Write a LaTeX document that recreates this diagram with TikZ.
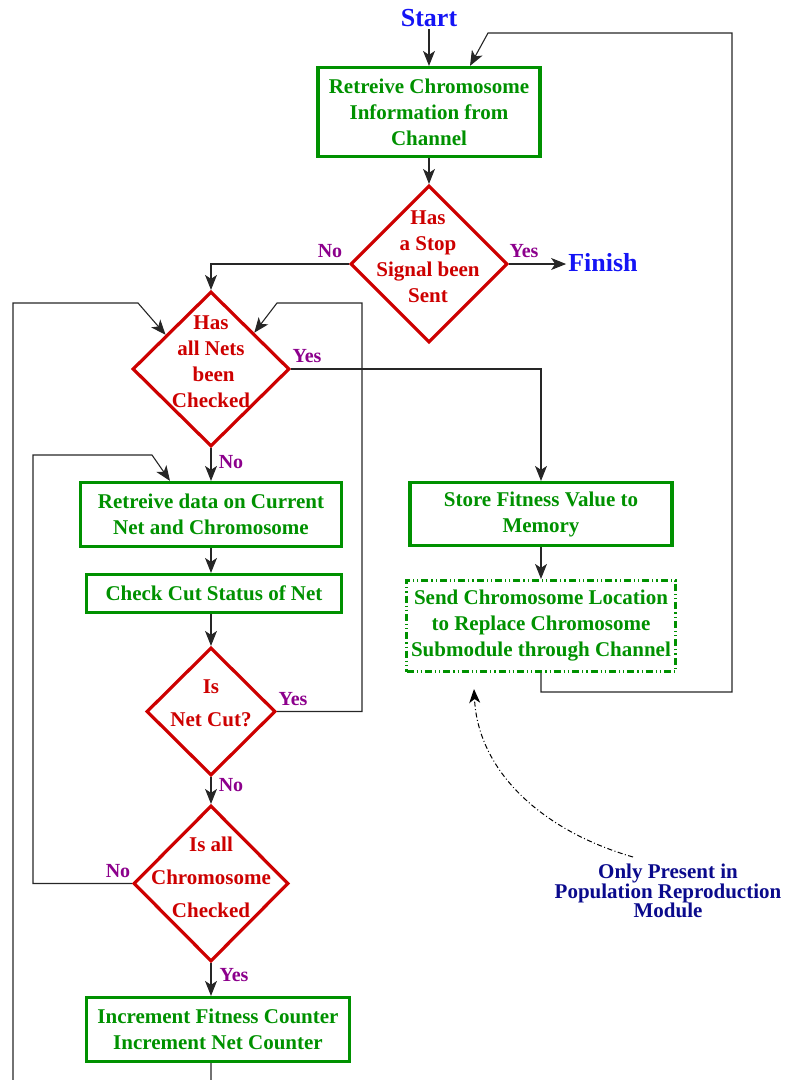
\documentclass[tikz,border=0pt]{standalone}
\usepackage{fontspec}
\setmainfont{Liberation Serif}
\usetikzlibrary{shapes.geometric,arrows.meta}

\definecolor{boxgreen}{RGB}{0,145,0}
\definecolor{decred}{RGB}{205,0,0}
\definecolor{anspurple}{RGB}{140,0,140}
\definecolor{termblue}{RGB}{20,20,245}
\definecolor{notenavy}{RGB}{10,10,140}

\tikzset{
  conn/.style={line width=1.1pt, draw=black!85, -{Stealth[length=15pt,width=12pt,inset=4pt]}},
  procbox/.style={rectangle, draw=boxgreen, line width=3.2pt, inner sep=0pt,
    text=boxgreen, font=\fontsize{21}{26}\selectfont\bfseries, align=center},
  optbox/.style={procbox, dash pattern=on 7pt off 3pt on 1.2pt off 3pt on 1.2pt off 3pt},
  decision/.style={diamond, draw=decred, line width=3.2pt, inner sep=0pt},
  dtext/.style={text=decred, font=\fontsize{21}{26}\selectfont\bfseries, align=center, inner sep=0pt},
  dtextwide/.style={dtext, font=\fontsize{21}{33}\selectfont\bfseries},
  ans/.style={text=anspurple, font=\fontsize{20}{24}\selectfont\bfseries, inner sep=0pt},
  term/.style={text=termblue, font=\fontsize{26}{30}\selectfont\bfseries, inner sep=2pt},
  notetext/.style={text=notenavy, font=\fontsize{21}{19.5}\selectfont\bfseries, align=center, inner sep=0pt},
  notearrow/.style={line width=1pt, draw=black,
    dash pattern=on 5pt off 2.5pt on 1pt off 2.5pt,
    -{Stealth[length=14pt,width=11pt,inset=4pt]}}
}

\begin{document}
\begin{tikzpicture}[x=1pt, y=-1pt]
  \useasboundingbox (0,0) rectangle (787,1080);
  \clip (0,0) rectangle (787,1080);

  % terminals
  \node[term] (start) at (429,18) {Start};
  \node[term] (finish) at (603,263) {Finish};

  % process boxes
  \node[procbox, minimum width=222pt, minimum height=89pt] (b1) at (429,112)
    {Retreive Chromosome\\Information from\\Channel};
  \node[procbox, minimum width=261pt, minimum height=64pt] (b3) at (211,514.5)
    {Retreive data on Current\\Net and Chromosome};
  \node[procbox, minimum width=255pt, minimum height=38pt] (b4) at (214,593.5)
    {Check Cut Status of Net};
  \node[procbox, minimum width=263pt, minimum height=64pt] (b5) at (218,1029.5)
    {Increment Fitness Counter\\Increment Net Counter};
  \node[procbox, minimum width=262pt, minimum height=63pt] (b6) at (541,514)
    {Store Fitness Value to\\Memory};
  \node[optbox, minimum width=269pt, minimum height=91pt] (b7) at (541,626)
    {Send Chromosome Location\\to Replace Chromosome\\Submodule through Channel};

  % decisions
  \node[decision, minimum width=157pt, minimum height=157pt] (d1) at (429,264) {};
  \node[dtext] (d1t) at (428,257) {Has\\a Stop\\Signal been\\Sent};
  \node[decision, minimum width=157pt, minimum height=155pt] (d2) at (211,369) {};
  \node[dtext] (d2t) at (211,362) {Has\\all Nets\\~been\\Checked};
  \node[decision, minimum width=129pt, minimum height=128pt] (d3) at (211,711.5) {};
  \node[dtextwide] (d3t) at (211,703) {Is\\Net Cut?};
  \node[decision, minimum width=155pt, minimum height=156pt] (d4) at (211,883.5) {};
  \node[dtextwide] (d4t) at (211,877) {Is all\\Chromosome\\Checked};

  % branch labels
  \node[ans] (l1no)  at (330,251) {No};
  \node[ans] (l1yes) at (524,251) {Yes};
  \node[ans] (l2yes) at (307,356) {Yes};
  \node[ans] (l2no)  at (231,462) {No};
  \node[ans] (l3yes) at (293,699) {Yes};
  \node[ans] (l3no)  at (231,785) {No};
  \node[ans] (l4no)  at (118,871) {No};
  \node[ans] (l4yes) at (234,975) {Yes};

  % note
  \node[notetext] (note) at (668,891) {Only Present in\\Population Reproduction\\Module};

  % helper coordinates
  \coordinate (ret) at (470,0);
  \coordinate (inner) at (170,0);
  \coordinate (notetail) at (633,857);
  \coordinate (notetip) at (474,689);

  % main flow
  \draw[conn] (start.south) -- (start.south |- b1.north);
  \draw[conn] (b1) -- (d1);
  \draw[conn] (d1.east) -- (d1.east -| finish.west);
  \draw[conn] (d1.west) -| (d2.north);
  \draw[conn] (d2.east) -| (b6.north);
  \draw[conn] (d2.south) -- (b3.north);
  \draw[conn] (b3.south) -- (b3.south |- b4.north);
  \draw[conn] (d3.north |- b4.south) -- (d3.north);
  \draw[conn] (d3.south) -- (d4.north);
  \draw[conn] (d4.south) -- (d4.south |- b5.north);
  \draw[conn] (b6) -- (b7);

  % loops
  \draw[conn] (d3.east) -| (362,303) -- (277,303) -- (d2.40);
  \draw[conn] (d4.west) -| (33,455) -- (152,455) -- (inner |- b3.north);
  \draw[conn] (d4.south |- b5.south) |- (13,1100) -- (13,303) -- (138,303) -- (d2.143);
  \draw[conn] (b7.south) |- (732,692) |- (488,33) -- (ret |- b1.north);

  % optional-module remark
  \draw[notearrow] (notetail) .. controls (540,830) and (478,770) .. (notetip);
\end{tikzpicture}
\end{document}
